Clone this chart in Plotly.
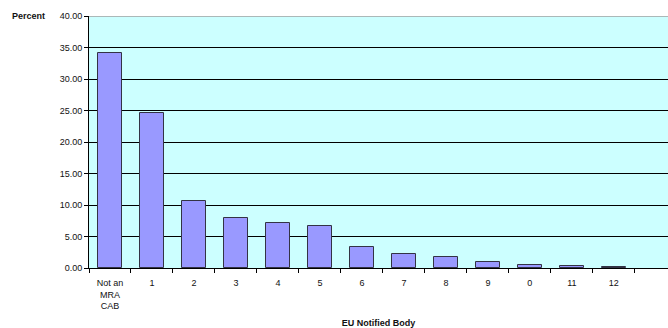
import plotly.graph_objects as go

# Share of certificates by EU Notified Body
bodies = ["Not an<br>MRA<br>CAB", "1", "2", "3", "4", "5", "6", "7", "8", "9", "0", "11", "12"]
percent = [34.1, 24.65, 10.63, 7.88, 7.2, 6.6, 3.4, 2.27, 1.8, 1.0, 0.53, 0.3, 0.2]
y_ticks = [0, 5, 10, 15, 20, 25, 30, 35, 40]

FONT = "Liberation Sans, Arial, sans-serif"

fig = go.Figure(
    go.Bar(
        x=list(range(len(bodies))),
        y=percent,
        width=0.57,
        marker=dict(color="#9999FF", line=dict(color="#333344", width=1)),
    )
)

fig.update_layout(
    width=668,
    height=328,
    margin=dict(l=89, r=0, t=16, b=60),
    paper_bgcolor="white",
    plot_bgcolor="#CCFFFF",
    showlegend=False,
    font=dict(family=FONT, size=9, color="#111111"),
    bargap=0,
)

fig.update_xaxes(
    automargin=False,
    range=[-0.5, 13.29],
    tickmode="array",
    tickvals=list(range(len(bodies))),
    ticktext=bodies,
    showgrid=False,
    showline=True,
    linecolor="black",
    linewidth=1,
    ticks="outside",
    ticklen=0,
    tickcolor="black",
    ticklabelstandoff=6,
    tickfont=dict(family=FONT, size=9),
    title=dict(text="<b>EU Notified Body</b>", font=dict(family=FONT, size=9), standoff=12),
    zeroline=False,
    # tick marks on the category boundaries
    minor=dict(tickvals=[i - 0.5 for i in range(len(bodies) + 1)], ticks="outside",
               ticklen=4, tickcolor="black", showgrid=False),
)

fig.update_yaxes(
    automargin=False,
    range=[0, 40],
    tickmode="array",
    tickvals=y_ticks,
    ticktext=[f"{v:.2f}" for v in y_ticks],
    tickfont=dict(family=FONT, size=9),
    showgrid=True,
    gridcolor="black",
    gridwidth=1,
    showline=True,
    linecolor="black",
    linewidth=1,
    ticks="outside",
    ticklen=4,
    tickcolor="black",
    zeroline=False,
)

# light grey top border of the plot area
fig.add_shape(type="line", xref="paper", yref="y", x0=0, x1=1, y0=40, y1=40,
              line=dict(color="#a0a0a0", width=1.5), layer="above")

fig.add_annotation(
    text="<b>Percent</b>", xref="paper", yref="paper", x=-0.072, y=1.0,
    xanchor="right", yanchor="middle", showarrow=False,
    font=dict(family=FONT, size=9),
)

fig.write_html("out.html")
